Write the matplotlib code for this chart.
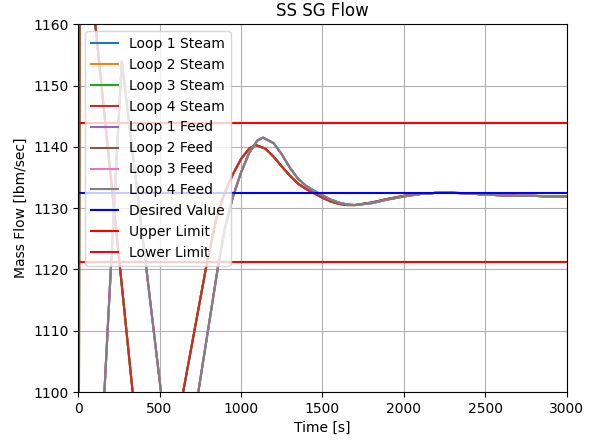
import matplotlib
matplotlib.use("Agg")
import matplotlib.pyplot as plt

plt.rcParams["font.size"] = 10

# steam flow (all four loops track each other)
steam_t = [0, 10, 335, 446, 645, 789, 850, 900, 950, 1000, 1050, 1090, 1150,
           1200, 1250, 1300, 1350, 1400, 1450, 1500, 1550, 1600, 1650, 1700,
           1800, 1900, 2000, 2100, 2200, 2300, 2400, 2500, 2600, 2700, 2800,
           2900, 3000]
steam = [1000, 1185, 1100, 1071, 1100, 1120.8, 1128.5, 1132.5, 1135.5, 1138.0,
         1139.7, 1140.3, 1139.7, 1138.4, 1136.8, 1135.3, 1134.0, 1133.1, 1132.4,
         1131.7, 1131.1, 1130.7, 1130.5, 1130.5, 1130.9, 1131.5, 1132.0, 1132.3,
         1132.5, 1132.5, 1132.4, 1132.2, 1132.1, 1132.0, 1132.0, 1131.9, 1131.9]

# feedwater flow
feed_t = [0, 268, 509, 600, 738, 861, 900, 950, 1000, 1050, 1100, 1135, 1200,
          1250, 1300, 1350, 1400, 1450, 1500, 1550, 1600, 1650, 1700, 1800,
          1900, 2000, 2100, 2200, 2300, 2400, 2500, 2600, 2700, 2800, 2900,
          3000]
feed = [1018, 1154, 1100, 1076, 1100, 1120.8, 1126.5, 1131.8, 1135.8, 1139.0,
        1141.0, 1141.5, 1140.6, 1138.8, 1136.6, 1134.8, 1133.6, 1132.8, 1132.1,
        1131.4, 1130.9, 1130.6, 1130.5, 1130.8, 1131.4, 1131.9, 1132.3, 1132.5,
        1132.5, 1132.4, 1132.2, 1132.1, 1132.0, 1132.0, 1131.9, 1131.9]

desired = 1132.5
upper = desired * 1.01
lower = desired * 0.99

fig, ax = plt.subplots(figsize=(5.96, 4.4), dpi=100)
fig.subplots_adjust(left=0.131, right=0.951, top=0.945, bottom=0.109)

for i in range(4):
    ax.plot(steam_t, steam, label="Loop %d Steam" % (i + 1))
for i in range(4):
    ax.plot(feed_t, feed, label="Loop %d Feed" % (i + 1))
ax.axhline(desired, color="b", label="Desired Value")
ax.axhline(upper, color="r", label="Upper Limit")
ax.axhline(lower, color="r", label="Lower Limit")

ax.set_xlim(0, 3000)
ax.set_ylim(1100, 1160)
ax.set_title("SS SG Flow")
ax.set_xlabel("Time [s]")
ax.set_ylabel("Mass Flow [lbm/sec]")
ax.grid(True)
ax.legend(loc="upper left")

plt.savefig("out.png")
